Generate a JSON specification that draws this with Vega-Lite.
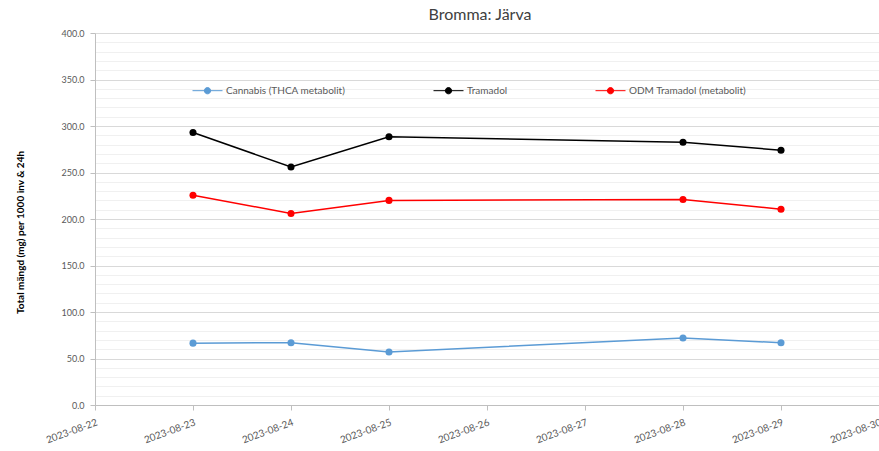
{
  "$schema": "https://vega.github.io/schema/vega-lite/v6.json",
  "autosize": {"type": "none"},
  "width": 784,
  "height": 372,
  "padding": {"left": 95, "top": 33, "right": 0, "bottom": 46},
  "background": "white",
  "config": {
    "font": "Lato",
    "view": {"stroke": null}
  },
  "title": {
    "text": "Bromma: Järva",
    "fontSize": 16,
    "fontWeight": "normal",
    "color": "#404040",
    "anchor": "middle",
    "dx": -7,
    "offset": 6,
    "font": "Lato"
  },
  "data": {
    "values": [
      {"date": "2023-08-23", "series": "Cannabis (THCA metabolit)", "value": 66.5},
      {"date": "2023-08-24", "series": "Cannabis (THCA metabolit)", "value": 67},
      {"date": "2023-08-25", "series": "Cannabis (THCA metabolit)", "value": 57},
      {"date": "2023-08-28", "series": "Cannabis (THCA metabolit)", "value": 72},
      {"date": "2023-08-29", "series": "Cannabis (THCA metabolit)", "value": 67},
      {"date": "2023-08-23", "series": "Tramadol", "value": 293},
      {"date": "2023-08-24", "series": "Tramadol", "value": 256},
      {"date": "2023-08-25", "series": "Tramadol", "value": 288.5},
      {"date": "2023-08-28", "series": "Tramadol", "value": 282.5},
      {"date": "2023-08-29", "series": "Tramadol", "value": 274},
      {"date": "2023-08-23", "series": "ODM Tramadol (metabolit)", "value": 225.5},
      {"date": "2023-08-24", "series": "ODM Tramadol (metabolit)", "value": 206},
      {"date": "2023-08-25", "series": "ODM Tramadol (metabolit)", "value": 220},
      {"date": "2023-08-28", "series": "ODM Tramadol (metabolit)", "value": 221},
      {"date": "2023-08-29", "series": "ODM Tramadol (metabolit)", "value": 210.5}
    ]
  },
  "mark": {"type": "line", "strokeWidth": 1.5, "point": {"filled": true, "size": 50}},
  "encoding": {
    "x": {
      "field": "date",
      "type": "temporal",
      "scale": {"domain": [{"year": 2023, "month": 8, "date": 22}, {"year": 2023, "month": 8, "date": 30}]},
      "axis": {
        "title": null,
        "format": "%Y-%m-%d",
        "tickCount": {"interval": "day", "step": 1},
        "grid": false,
        "labelAngle": -20,
        "labelAlign": "right",
        "labelBaseline": "top",
        "labelPadding": 7,
        "labelFontSize": 10,
        "labelColor": "#595959",
        "labelFont": "Lato",
        "domainColor": "#bfbfbf",
        "tickColor": "#bfbfbf",
        "tickSize": 5,
        "labelOverlap": false,
        "labelBound": false,
        "labelFlush": false
      }
    },
    "y": {
      "field": "value",
      "type": "quantitative",
      "scale": {"domain": [0, 400], "nice": false},
      "axis": {
        "title": "Total mängd (mg) per 1000 inv & 24h",
        "titleFontSize": 10,
        "titleFontWeight": "bold",
        "titleColor": "#000000",
        "titleFont": "Lato",
        "titleAngle": -90,
        "titleX": -75,
        "titleY": 199,
        "titleAlign": "center",
        "titleBaseline": "middle",
        "values": [0,10,20,30,40,50,60,70,80,90,100,110,120,130,140,150,160,170,180,190,200,210,220,230,240,250,260,270,280,290,300,310,320,330,340,350,360,370,380,390,400],
        "labelExpr": "datum.value % 50 === 0 ? format(datum.value, '.1f') : ''",
        "labelFontSize": 9,
        "labelColor": "#595959",
        "labelFont": "Lato",
        "labelPadding": 6,
        "grid": true,
        "gridColor": {"condition": {"test": "datum.value % 50 === 0", "value": "#d9d9d9"}, "value": "#f0f0f0"},
        "gridWidth": 1,
        "tickColor": {"condition": {"test": "datum.value % 50 === 0", "value": "#bfbfbf"}, "value": "transparent"},
        "tickSize": 5,
        "domainColor": "#bfbfbf"
      }
    },
    "color": {
      "field": "series",
      "type": "nominal",
      "scale": {
        "domain": ["Cannabis (THCA metabolit)", "Tramadol", "ODM Tramadol (metabolit)"],
        "range": ["#5b9bd5", "#000000", "#ff0000"]
      },
      "legend": {
        "title": null,
        "orient": "none",
        "legendX": 97,
        "legendY": 42,
        "direction": "horizontal",
        "columnPadding": 85,
        "symbolType": "M-1,0H1M-0.21,0A0.21,0.21 0 1,0 0.21,0A0.21,0.21 0 1,0 -0.21,0Z",
        "symbolSize": 900,
        "symbolStrokeWidth": 1,
        "labelFontSize": 10,
        "labelColor": "#595959",
        "labelFont": "Lato",
        "labelOffset": 3,
        "encode": {
          "symbols": {"update": {"fill": {"scale": "color", "field": "value"}, "fillOpacity": {"value": 1}}}
        }
      }
    }
  }
}
